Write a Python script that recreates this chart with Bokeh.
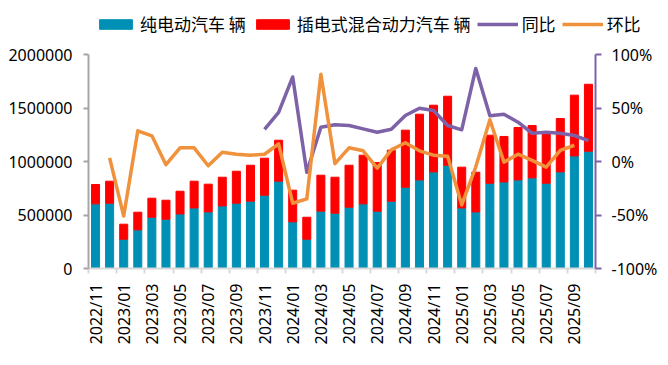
import math
from bokeh.plotting import figure
from bokeh.models import (ColumnDataSource, Range1d, LinearAxis, FixedTicker,
                          NumeralTickFormatter, Legend, LegendItem)
from bokeh.embed import file_html
from bokeh.resources import INLINE

months = ["2022/11", "2022/12", "2023/01", "2023/02", "2023/03", "2023/04", "2023/05", "2023/06",
          "2023/07", "2023/08", "2023/09", "2023/10", "2023/11", "2023/12", "2024/01", "2024/02",
          "2024/03", "2024/04", "2024/05", "2024/06", "2024/07", "2024/08", "2024/09", "2024/10",
          "2024/11", "2024/12", "2025/01", "2025/02", "2025/03", "2025/04", "2025/05", "2025/06",
          "2025/07", "2025/08", "2025/09", "2025/10"]

bev = [604000, 610000, 274000, 361000, 479000, 461000, 510000, 566000,
       529000, 585000, 610000, 629000, 685000, 816000, 436000, 274000,
       536000, 517000, 573000, 604000, 536000, 629000, 760000, 828000,
       903000, 965000, 566000, 529000, 797000, 809000, 828000, 847000,
       797000, 903000, 1052000, 1096000]

phev = [181000, 206000, 140000, 165000, 178000, 177000, 212000, 250000,
        259000, 268000, 299000, 336000, 346000, 383000, 296000, 205000,
        336000, 336000, 392000, 455000, 454000, 477000, 533000, 614000,
        623000, 645000, 381000, 371000, 449000, 425000, 490000, 489000,
        465000, 499000, 568000, 626000]

# 同比 (year-on-year), from 2023/11 to 2025/10
yoy_months = months[12:]
yoy = [0.30, 0.46, 0.79, -0.10, 0.32, 0.343, 0.336, 0.305, 0.274, 0.302, 0.43, 0.498,
       0.477, 0.336, 0.296, 0.87, 0.427, 0.442, 0.367, 0.264, 0.274, 0.264, 0.243, 0.196]

# 环比 (month-on-month), from 2022/12 to 2025/09
mom_months = months[1:35]
mom = [0.034, -0.51, 0.287, 0.24, -0.03, 0.128, 0.128, -0.04, 0.087, 0.068, 0.059, 0.068,
       0.165, -0.39, -0.35, 0.816, -0.02, 0.128, 0.10, -0.062, 0.109, 0.175, 0.10, 0.059,
       0.05, -0.405, -0.05, 0.39, -0.006, 0.068, 0.01, -0.053, 0.103, 0.152]

series_names = ["纯电动汽车 辆", "插电式混合动力汽车 辆", "同比", "环比"]

TEAL = "#0090B5"
RED = "#FF0000"
PURPLE = "#7E62A8"
ORANGE = "#F0913B"
FONT = "Noto Sans"
CJK = "Noto Sans CJK SC"

idx = {m: i for i, m in enumerate(months)}
src = ColumnDataSource(dict(x=list(range(len(months))), bev=bev, phev=phev))

# ---------- main chart ----------
p = figure(width=660, height=317, output_backend="svg", toolbar_location=None,
           x_range=Range1d(-0.5, len(months) - 0.5), y_range=Range1d(0, 2000000),
           min_border_left=88, min_border_right=63, min_border_top=14, min_border_bottom=89)
p.outline_line_color = None
p.xgrid.visible = False
p.ygrid.visible = False
p.extra_y_ranges = {"pct": Range1d(-1, 1)}

p.vbar_stack(["bev", "phev"], x="x", width=0.57, color=[TEAL, RED], source=src)

p.line([idx[m] for m in yoy_months], yoy, y_range_name="pct",
       line_color=PURPLE, line_width=3.5, line_join="round")
p.line([idx[m] for m in mom_months], mom, y_range_name="pct",
       line_color=ORANGE, line_width=3.5, line_join="round")

# x axis
xa = p.xaxis[0]
xa.ticker = FixedTicker(ticks=list(range(0, len(months), 2)),
                        minor_ticks=[i - 0.5 for i in range(0, len(months) + 1, 2)])
xa.major_label_overrides = {i: months[i] for i in range(0, len(months), 2)}
xa.major_label_orientation = math.pi / 2
xa.major_tick_line_color = None
xa.major_tick_out = 0
xa.minor_tick_out = 5
xa.minor_tick_in = 0
xa.minor_tick_line_color = "#D9D9D9"
xa.minor_tick_line_width = 2
xa.axis_line_color = "#D9D9D9"
xa.axis_line_width = 2
xa.major_label_text_font = FONT
xa.major_label_text_font_size = "16px"
xa.major_label_text_color = "#000000"
xa.major_label_standoff = 10

# left axis
ya = p.yaxis[0]
ya.ticker = FixedTicker(ticks=[0, 500000, 1000000, 1500000, 2000000])
ya.formatter = NumeralTickFormatter(format="0")
ya.axis_line_color = "#A6A6A6"
ya.axis_line_width = 2
ya.major_tick_line_color = "#A6A6A6"
ya.major_tick_line_width = 2
ya.major_tick_out = 5
ya.major_tick_in = 0
ya.minor_tick_line_color = None
ya.major_label_text_font = FONT
ya.major_label_text_font_size = "16px"
ya.major_label_text_color = "#000000"
ya.major_label_standoff = 11

# right axis
ra = LinearAxis(y_range_name="pct", ticker=FixedTicker(ticks=[-1, -0.5, 0, 0.5, 1]),
                formatter=NumeralTickFormatter(format="0%"))
ra.axis_line_color = PURPLE
ra.axis_line_width = 2
ra.major_tick_line_color = PURPLE
ra.major_tick_line_width = 2
ra.major_tick_out = 6
ra.major_tick_in = 0
ra.minor_tick_line_color = None
ra.major_label_text_font = FONT
ra.major_label_text_font_size = "16px"
ra.major_label_text_color = "#000000"
ra.major_label_standoff = 10
p.add_layout(ra, "right")

# ---------- legend strip (separate root so its frame spans the full width) ----------
lg = figure(width=660, height=40, output_backend="svg", toolbar_location=None,
            x_axis_type=None, y_axis_type=None, x_range=Range1d(0, 1), y_range=Range1d(0, 1),
            min_border_left=0, min_border_right=0, min_border_top=0, min_border_bottom=0)
lg.outline_line_color = None
lg.xgrid.visible = False
lg.ygrid.visible = False
# legend proxies lie outside the visible range
r1 = lg.vbar(x=[5], top=[1], width=0.5, color=TEAL)
r2 = lg.vbar(x=[5], top=[1], width=0.5, color=RED)
r3 = lg.line(x=[5, 6], y=[5, 5], line_color=PURPLE, line_width=3.5)
r4 = lg.line(x=[5, 6], y=[5, 5], line_color=ORANGE, line_width=3.5)

legend = Legend(items=[
    LegendItem(label=series_names[0], renderers=[r1]),
    LegendItem(label=series_names[1], renderers=[r2]),
    LegendItem(label=series_names[2], renderers=[r3]),
    LegendItem(label=series_names[3], renderers=[r4]),
], orientation="horizontal", location=(95, 4))
legend.glyph_width = 41
legend.glyph_height = 12
legend.label_text_font = CJK
legend.label_text_font_size = "17px"
legend.label_text_color = "#000000"
legend.label_standoff = 4
legend.spacing = 6
legend.padding = 0
legend.margin = 0
legend.border_line_alpha = 0
legend.background_fill_alpha = 0
lg.add_layout(legend, "center")

open("out.html", "w").write(file_html([lg, p], INLINE))
